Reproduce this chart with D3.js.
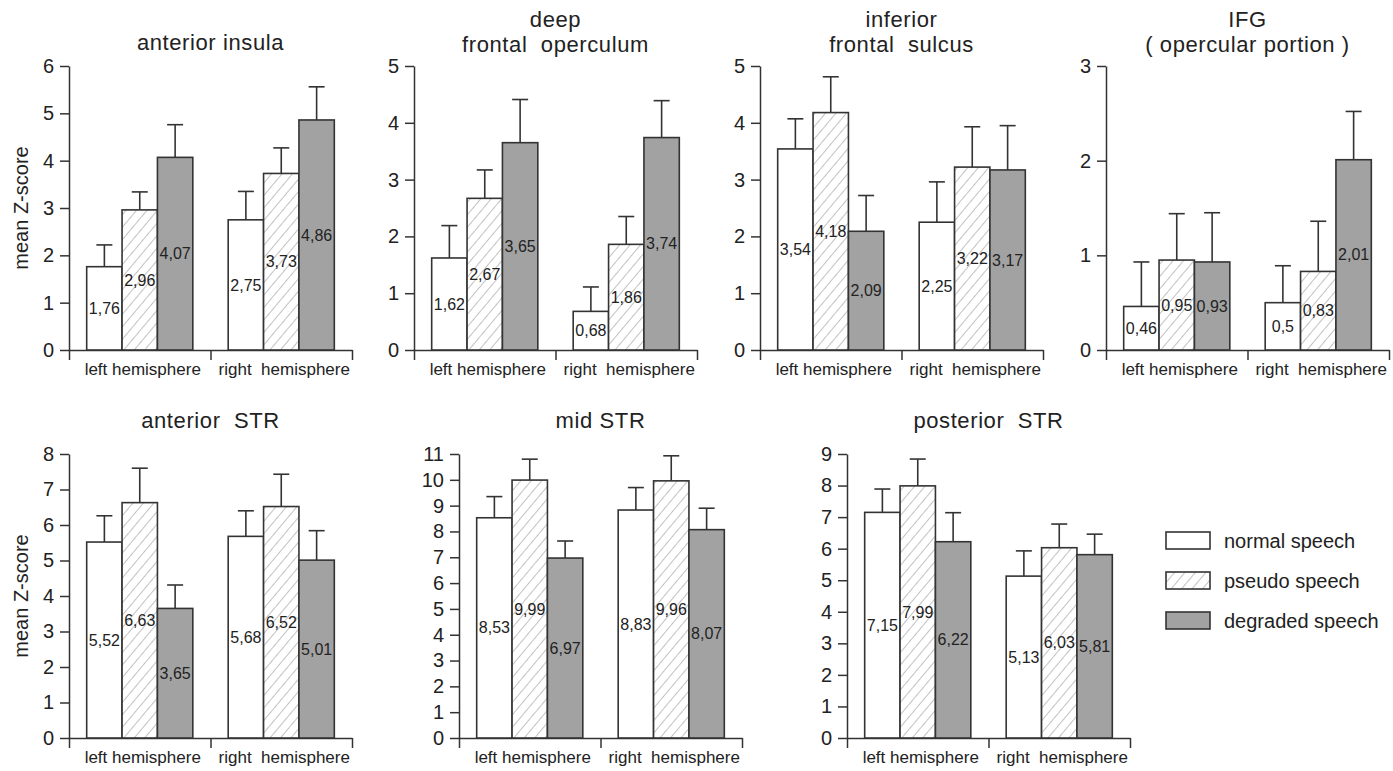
<!DOCTYPE html>
<html>
<head>
<meta charset="utf-8">
<script src="https://cdn.jsdelivr.net/npm/d3@7"></script>
<style>
  body { margin: 0; background: #fff; }
  svg { display: block; font-family: "Liberation Sans", Arial, sans-serif; }
  text { fill: #222; }
</style>
</head>
<body>
<svg id="chart" width="1393" height="771"></svg>
<script>
// hemispheres and conditions
var groups = ["left hemisphere", "right  hemisphere"];
var conditions = ["normal speech", "pseudo speech", "degraded speech"];

// means, order: left (normal, pseudo, degraded), right (normal, pseudo, degraded)
var insulaMean = [1.76, 2.96, 4.07, 2.75, 3.73, 4.86];
var insulaErr  = [0.46, 0.38, 0.69, 0.60, 0.54, 0.70];
var deepFoMean = [1.62, 2.67, 3.65, 0.68, 1.86, 3.74];
var deepFoErr  = [0.57, 0.50, 0.76, 0.43, 0.49, 0.65];
var ifsMean    = [3.54, 4.18, 2.09, 2.25, 3.22, 3.17];
var ifsErr     = [0.53, 0.63, 0.63, 0.71, 0.71, 0.78];
var ifgMean    = [0.46, 0.95, 0.93, 0.5, 0.83, 2.01];
var ifgErr     = [0.47, 0.49, 0.52, 0.39, 0.53, 0.51];
var aStrMean   = [5.52, 6.63, 3.65, 5.68, 6.52, 5.01];
var aStrErr    = [0.74, 0.97, 0.66, 0.72, 0.91, 0.83];
var mStrMean   = [8.53, 9.99, 6.97, 8.83, 9.96, 8.07];
var mStrErr    = [0.82, 0.81, 0.66, 0.87, 0.97, 0.83];
var pStrMean   = [7.15, 7.99, 6.22, 5.13, 6.03, 5.81];
var pStrErr    = [0.74, 0.85, 0.92, 0.80, 0.75, 0.65];

var titles = [
    ["anterior insula"],
    ["deep", "frontal  operculum"],
    ["inferior", "frontal  sulcus"],
    ["IFG", "( opercular portion )"],
    ["anterior  STR"],
    ["mid STR"],
    ["posterior  STR"]
];
var yMax = [6, 5, 5, 3, 8, 11, 9];

var svg = d3.select("#chart");
var fills = ["#ffffff", "url(#hatch)", "#a2a2a2"];

var defs = svg.append("defs");
var pat = defs.append("pattern")
    .attr("id", "hatch")
    .attr("patternUnits", "userSpaceOnUse")
    .attr("width", 8)
    .attr("height", 8)
    .attr("patternTransform", "rotate(40)");
pat.append("rect").attr("width", 8).attr("height", 8).attr("fill", "#fff");
pat.append("line")
    .attr("x1", 0).attr("y1", 0).attr("x2", 0).attr("y2", 8)
    .attr("stroke", "#999").attr("stroke-width", 1.2);

function drawPanel(left, top, means, errs, title, max, yLabel) {
    var w = 283, h = 284;
    var g = svg.append("g").attr("transform", "translate(" + left + "," + top + ")");

    var x0 = d3.scaleBand().domain(groups).range([0, w]);
    var x1 = d3.scaleBand().domain(conditions).range([0, x0.bandwidth()]).paddingOuter(0.5);
    var y = d3.scaleLinear().domain([0, max]).range([h, 0]);
    var xb = d3.scaleLinear().domain([0, 2]).range([0, w]);

    var data = means.map(function(d, i) {
        return { group: groups[Math.floor(i / 3)], cond: conditions[i % 3], k: i % 3, mean: d, err: errs[i] };
    });

    // x axis with boundary ticks
    var xa = g.append("g")
        .attr("transform", "translate(0," + h + ")")
        .call(d3.axisBottom(xb).tickValues([0, 1, 2]).tickFormat("").tickSize(10).tickSizeOuter(0));
    xa.selectAll("path, line").attr("stroke", "#333").attr("stroke-width", 1.5);

    g.selectAll(".glabel")
        .data(groups)
        .enter().append("text")
        .attr("x", function(d) { return x0(d) + x0.bandwidth() / 2 + 3; })
        .attr("y", h + 25)
        .attr("text-anchor", "middle")
        .style("font-size", "17px")
        .style("white-space", "pre")
        .text(function(d) { return d; });

    var ya = g.append("g")
        .call(d3.axisLeft(y).tickValues(d3.range(0, max + 1)).tickFormat(d3.format("d")).tickSize(9).tickSizeOuter(0).tickPadding(6));
    ya.selectAll("path, line").attr("stroke", "#333").attr("stroke-width", 1.5);
    ya.selectAll("text").style("font-size", "20px").attr("fill", "#222");

    if (yLabel) {
        g.append("text")
            .attr("transform", "translate(-48," + (h / 2) + ") rotate(-90)")
            .attr("text-anchor", "middle")
            .attr("dy", "0.35em")
            .style("font-size", "20px")
            .text("mean Z-score");
    }

    // error bars
    var eb = g.selectAll(".err")
        .data(data)
        .enter().append("g")
        .attr("transform", function(d) { return "translate(" + (x0(d.group) + x1(d.cond) + x1.bandwidth() / 2) + ",0)"; });
    eb.append("line")
        .attr("x1", 0).attr("x2", 0)
        .attr("y1", function(d) { return y(d.mean); })
        .attr("y2", function(d) { return y(d.mean + d.err); })
        .attr("stroke", "#333").attr("stroke-width", 1.6);
    eb.append("line")
        .attr("x1", -8).attr("x2", 8)
        .attr("y1", function(d) { return y(d.mean + d.err); })
        .attr("y2", function(d) { return y(d.mean + d.err); })
        .attr("stroke", "#333").attr("stroke-width", 1.6);

    g.selectAll(".bar")
        .data(data)
        .enter().append("rect")
        .attr("class", "bar")
        .attr("x", function(d) { return x0(d.group) + x1(d.cond); })
        .attr("y", function(d) { return y(d.mean); })
        .attr("width", x1.bandwidth())
        .attr("height", function(d) { return h - y(d.mean); })
        .attr("fill", function(d) { return fills[d.k]; })
        .attr("stroke", "#333")
        .attr("stroke-width", 1.6);

    g.selectAll(".val")
        .data(data)
        .enter().append("text")
        .attr("x", function(d) { return x0(d.group) + x1(d.cond) + x1.bandwidth() / 2; })
        .attr("y", function(d) { return (y(d.mean) + h) / 2; })
        .attr("dy", "0.35em")
        .attr("text-anchor", "middle")
        .style("font-size", "16px")
        .text(function(d) { return String(d.mean).replace(".", ","); });

    // title
    var base = title.length > 1 ? [-39, -14] : (top > 300 ? [-26] : [-16]);
    title.forEach(function(t, i) {
        g.append("text")
            .attr("x", w / 2)
            .attr("y", base[i])
            .attr("text-anchor", "middle")
            .style("font-size", "22px")
            .style("letter-spacing", "0.6px")
            .style("white-space", "pre")
            .text(t);
    });
}

drawPanel(69, 66, insulaMean, insulaErr, titles[0], yMax[0], true);
drawPanel(414, 66, deepFoMean, deepFoErr, titles[1], yMax[1], false);
drawPanel(760, 66, ifsMean, ifsErr, titles[2], yMax[2], false);
drawPanel(1106, 66, ifgMean, ifgErr, titles[3], yMax[3], false);
drawPanel(69, 454, aStrMean, aStrErr, titles[4], yMax[4], true);
drawPanel(459, 454, mStrMean, mStrErr, titles[5], yMax[5], false);
drawPanel(847, 454, pStrMean, pStrErr, titles[6], yMax[6], false);

// legend
var legend = svg.append("g").attr("transform", "translate(1166,532)");
conditions.forEach(function(c, i) {
    legend.append("rect")
        .attr("x", 0).attr("y", i * 40)
        .attr("width", 44).attr("height", 17)
        .attr("fill", fills[i])
        .attr("stroke", "#333").attr("stroke-width", 1.6);
    legend.append("text")
        .attr("x", 58).attr("y", i * 40 + 8.5)
        .attr("dy", "0.35em")
        .style("font-size", "20px")
        .text(c);
});
</script>
</body>
</html>
